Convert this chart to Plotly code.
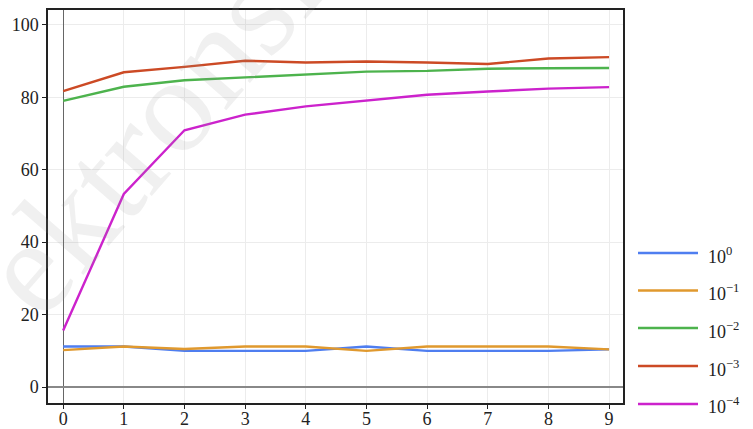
import plotly.graph_objects as go

x_vals = [0, 1, 2, 3, 4, 5, 6, 7, 8, 9]
names = ["10<sup>0</sup>", "10<sup>−1</sup>", "10<sup>−2</sup>", "10<sup>−3</sup>", "10<sup>−4</sup>"]
s_1e0 = [11.2, 11.2, 10.0, 10.0, 10.0, 11.2, 10.0, 10.0, 10.0, 10.4]
s_1e1 = [10.2, 11.2, 10.5, 11.2, 11.2, 10.0, 11.2, 11.2, 11.2, 10.4]
s_1e2 = [79.0, 82.9, 84.7, 85.5, 86.4, 87.1, 87.3, 87.9, 88.0, 88.1]
s_1e3 = [81.7, 86.9, 88.4, 90.1, 89.6, 89.9, 89.6, 89.2, 90.7, 91.1]
s_1e4 = [15.6, 53.3, 70.9, 75.2, 77.5, 79.2, 80.7, 81.6, 82.4, 82.8]
series = [s_1e0, s_1e1, s_1e2, s_1e3, s_1e4]
colors = ["#4f7ef0", "#e0992e", "#4db34d", "#cc4a25", "#cc22cc"]
y_ticks = [0, 20, 40, 60, 80, 100]
x_ticks = x_vals

FONT = "Liberation Serif, DejaVu Serif, serif"

fig = go.Figure()
for name, ys, c in zip(names, series, colors):
    fig.add_trace(go.Scatter(x=x_vals, y=ys, mode="lines", name=name,
                             line=dict(color=c, width=2.4), showlegend=False))

# plot-area geometry (px) used for the manual legend
L, R, T, B = 48, 130, 10, 26
W, H = 753, 429
pw, ph = W - L - R, H - T - B

def px_x(px):
    return (px - L) / pw

def px_y(py):
    return (H - B - py) / ph

legend_y = [253, 290.5, 328, 366, 404]
shapes = []
annotations = []
for name, c, ly in zip(names, colors, legend_y):
    shapes.append(dict(type="line", xref="paper", yref="paper",
                       x0=px_x(638), x1=px_x(698), y0=px_y(ly), y1=px_y(ly),
                       line=dict(color=c, width=2.4)))
    annotations.append(dict(xref="paper", yref="paper", x=px_x(706), y=px_y(ly + 2),
                            text=name, showarrow=False, xanchor="left", yanchor="middle",
                            font=dict(family=FONT, size=18, color="#222")))

# faint watermark
annotations.append(dict(xref="paper", yref="paper", x=px_x(150), y=px_y(128),
                        text="ektronsi", showarrow=False, textangle=-49,
                        xanchor="center", yanchor="middle",
                        font=dict(family=FONT, size=136, color="rgba(150,150,150,0.14)")))

fig.update_layout(
    width=W, height=H,
    margin=dict(l=L, r=R, t=T, b=B, pad=0, autoexpand=False),
    paper_bgcolor="white", plot_bgcolor="white",
    font=dict(family=FONT, size=18, color="#222"),
    shapes=shapes, annotations=annotations,
    showlegend=False,
)
fig.update_xaxes(range=[-0.25, 9.23], tickvals=x_ticks, showgrid=True, gridcolor="#ececec",
                 gridwidth=1, zeroline=True, zerolinecolor="#666", zerolinewidth=1,
                 showline=True, linecolor="#222", linewidth=1.5, mirror=True,
                 ticks="outside", ticklen=4, tickcolor="#222", automargin=False,
                 ticklabelstandoff=-5,
                 tickfont=dict(family=FONT, size=18))
fig.update_yaxes(range=[-4.4, 104.1], tickvals=y_ticks, showgrid=True, gridcolor="#ececec",
                 gridwidth=1, zeroline=True, zerolinecolor="#888", zerolinewidth=1.5,
                 showline=True, linecolor="#222", linewidth=1.5, mirror=True,
                 ticks="outside", ticklen=4, tickcolor="#222", automargin=False,
                 tickfont=dict(family=FONT, size=18))

fig.write_html("out.html", config={"displayModeBar": False},
               post_script="document.body.style.margin='0';document.body.style.overflow='hidden';")
